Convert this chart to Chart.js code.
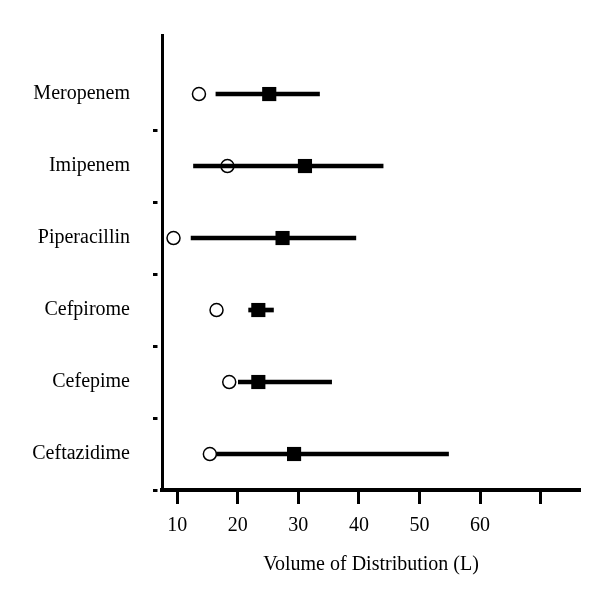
<!DOCTYPE html>
<html>
<head>
<meta charset="utf-8">
<script src="https://cdn.jsdelivr.net/npm/chart.js@4"></script>
<style>
  body { margin: 0; background: #fff; }
</style>
</head>
<body>
<canvas id="vdChart" width="600" height="593"></canvas>
<script>
// drugs listed top to bottom
const drugs = ['Meropenem', 'Imipenem', 'Piperacillin', 'Cefpirome', 'Cefepime', 'Ceftazidime'];
const circleVd = [13.6, 18.3, 9.4, 16.5, 18.6, 15.4];   // open circles
const squareVd = [25.2, 31.1, 27.4, 23.4, 23.4, 29.3];  // filled squares
const rangeLow = [16.4, 12.7, 12.3, 21.8, 20.1, 16.5];
const rangeHigh = [33.5, 44.0, 39.5, 25.9, 35.5, 54.8];
const xTickValues = [10, 20, 30, 40, 50, 60, 70];
const xTickLabels = ['10', '20', '30', '40', '50', '60', ''];

const serif = { family: "'Liberation Serif', 'Times New Roman', serif", size: 20 };

new Chart(document.getElementById('vdChart'), {
    type: 'scatter',
    data: {
        datasets: [{
            type: 'scatter',
            data: circleVd.map((v, i) => ({ x: v, y: i })),
            pointStyle: 'circle',
            pointRadius: 6.5,
            backgroundColor: 'rgba(0,0,0,0)',
            borderColor: '#000',
            borderWidth: 1.5,
            order: 0
        }, {
            type: 'scatter',
            data: squareVd.map((v, i) => ({ x: v, y: i })),
            pointStyle: 'rect',
            pointRadius: 10,
            backgroundColor: '#000',
            borderColor: '#000',
            borderWidth: 0,
            order: 1
        }, {
            type: 'bar',
            indexAxis: 'y',
            data: drugs.map((d, i) => ({ x: [rangeLow[i], rangeHigh[i]], y: i })),
            backgroundColor: '#000',
            barThickness: 4,
            order: 2
        }]
    },
    options: {
        responsive: false,
        animation: false,
        layout: { padding: { top: 31, right: 20, bottom: 0, left: 0 } },
        plugins: {
            legend: { display: false },
            tooltip: { enabled: false }
        },
        scales: {
            x: {
                type: 'linear',
                min: 7.5,
                max: 76.5,
                offset: false,
                beginAtZero: false,
                afterBuildTicks: axis => { axis.ticks = xTickValues.map(v => ({ value: v })); },
                afterFit: axis => { axis.height = 103; },
                border: { color: '#000', width: 4 },
                grid: { offset: false, drawOnChartArea: false, tickLength: 14, tickWidth: 3, tickColor: '#000' },
                ticks: {
                    autoSkip: false,
                    maxRotation: 0,
                    color: '#000',
                    font: serif,
                    padding: 10,
                    callback: v => xTickLabels[xTickValues.indexOf(v)]
                },
                title: {
                    display: true,
                    text: 'Volume of Distribution (L)',
                    color: '#000',
                    font: serif,
                    padding: { top: 0, bottom: 16 }
                }
            },
            y: {
                type: 'linear',
                reverse: true,
                min: -0.82,
                max: 5.5,
                offset: false,
                afterBuildTicks: axis => {
                    const t = [];
                    drugs.forEach((d, i) => {
                        t.push({ value: i });
                        t.push({ value: i + 0.5 });
                    });
                    axis.ticks = t;
                },
                afterFit: axis => { axis.width = 162; },
                border: { color: '#000', width: 3 },
                grid: {
                    offset: false,
                    drawOnChartArea: false,
                    tickLength: 9,
                    tickWidth: 3,
                    tickBorderDash: [4.5, 20],
                    tickColor: ctx => (ctx.tick && Number.isInteger(ctx.tick.value)) ? 'rgba(0,0,0,0)' : '#000'
                },
                ticks: {
                    autoSkip: false,
                    color: '#000',
                    font: serif,
                    padding: 23,
                    callback: v => Number.isInteger(v) ? drugs[v] : ''
                }
            }
        }
    }
});
</script>
</body>
</html>
